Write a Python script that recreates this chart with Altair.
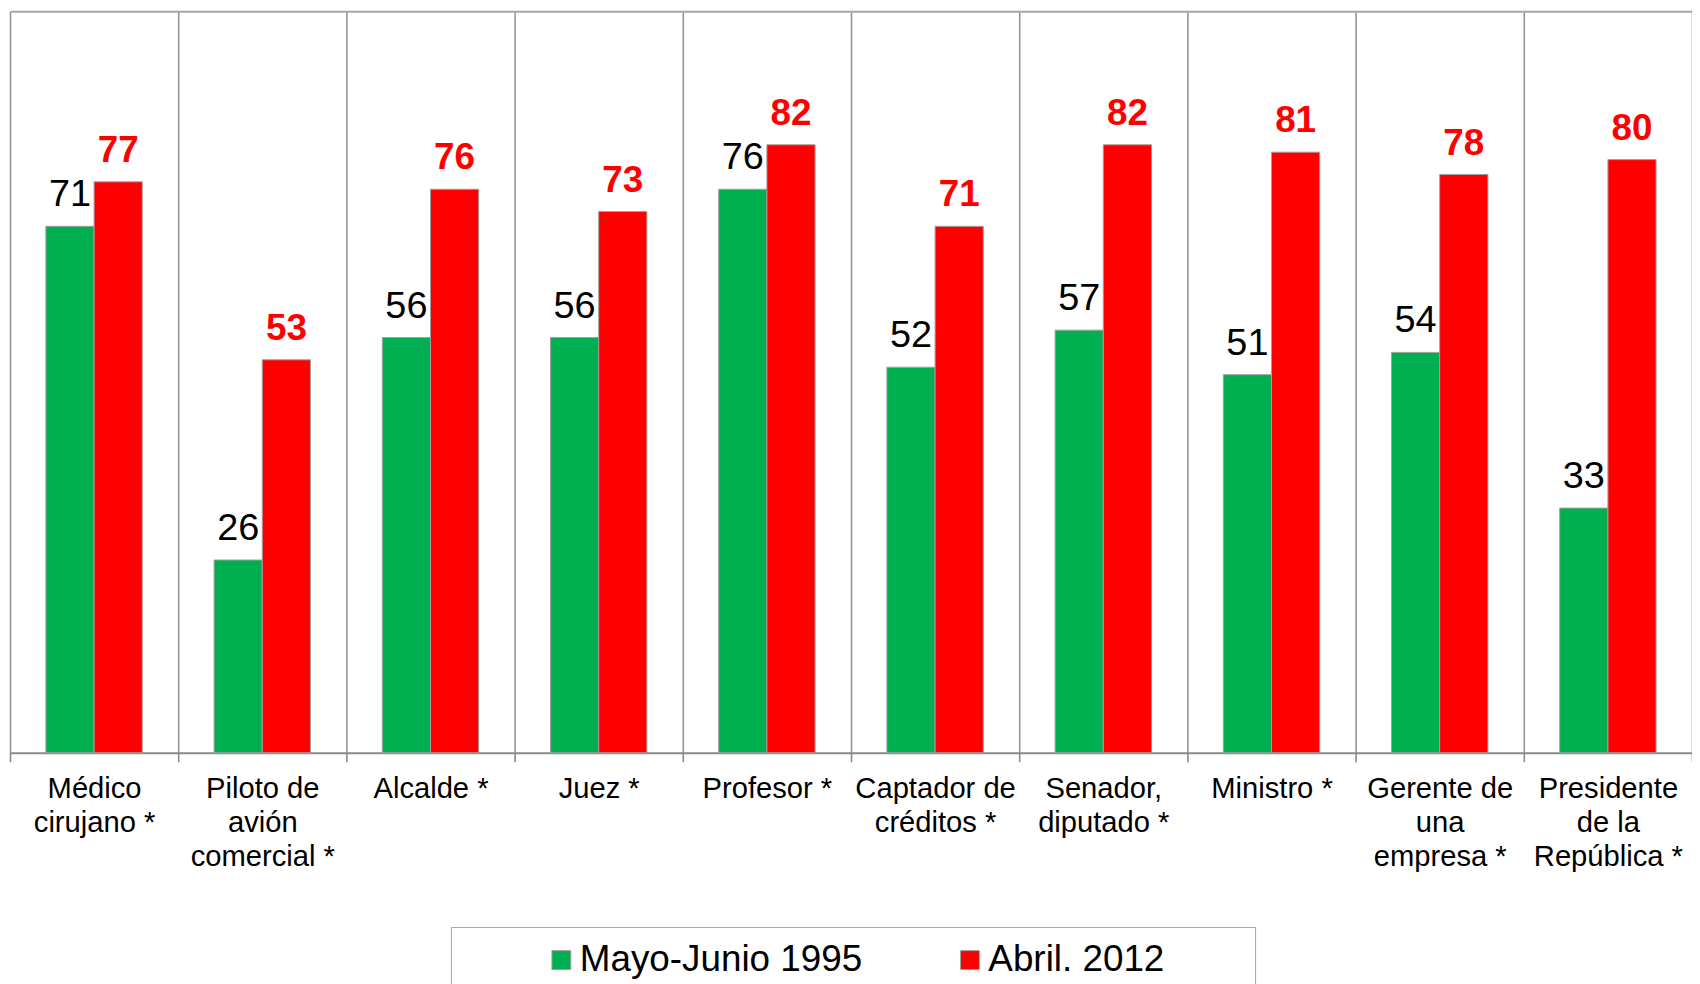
import altair as alt
import pandas as pd

categories = [
    "Médico|cirujano *",
    "Piloto de|avión|comercial *",
    "Alcalde *",
    "Juez *",
    "Profesor *",
    "Captador de|créditos *",
    "Senador,|diputado *",
    "Ministro *",
    "Gerente de|una|empresa *",
    "Presidente|de la|República *",
]
series = ["Mayo-Junio 1995", "Abril. 2012"]
values_1995 = [71, 26, 56, 56, 76, 52, 57, 51, 54, 33]
values_2012 = [77, 53, 76, 73, 82, 71, 82, 81, 78, 80]
colors = ["#00B050", "#FF0000"]

rows = []
for c, a, b in zip(categories, values_1995, values_2012):
    rows.append({"cat": c, "serie": series[0], "valor": a})
    rows.append({"cat": c, "serie": series[1], "valor": b})
df = pd.DataFrame(rows)

FONT = "Liberation Sans"

x_scale = alt.Scale(domain=categories, paddingInner=0, paddingOuter=0)
off_scale = alt.Scale(domain=series, paddingInner=0, paddingOuter=0.745)
y_scale = alt.Scale(domain=[0, 100], nice=False, zero=True)

x_enc = alt.X(
    "cat:N",
    sort=categories,
    scale=x_scale,
    axis=alt.Axis(
        title=None,
        tickBand="extent",
        grid=True,
        gridColor="#959595",
        gridWidth=1.6,
        domainColor="#8a8a8a",
        domainWidth=2,
        tickColor="#8a8a8a",
        tickWidth=1.6,
        tickSize=9,
        labelFont=FONT,
        labelFontSize=29.3,
        labelColor="black",
        labelAngle=0,
        labelBaseline="top",
        labelPadding=13,
        labelLineHeight=34,
        labelExpr="split(datum.label, '|')",
        labelLimit=400,
        labelOverlap=False,
    ),
)
xo_enc = alt.XOffset("serie:N", sort=series, scale=off_scale)
y_enc = alt.Y(
    "valor:Q",
    scale=y_scale,
    axis=alt.Axis(
        title=None,
        values=[100],
        grid=True,
        gridColor="#a6a6a6",
        gridWidth=2,
        labels=False,
        ticks=False,
        domain=False,
    ),
)

base = alt.Chart(df)

bars = base.mark_bar(stroke="#a0a0a0", strokeWidth=1).encode(
    x=x_enc,
    xOffset=xo_enc,
    y=y_enc,
    color=alt.Color(
        "serie:N",
        sort=series,
        scale=alt.Scale(domain=series, range=colors),
        legend=alt.Legend(
            title="\u00a0",
            titleOrient="right",
            titlePadding=77,
            titleFontSize=20,
            orient="none",
            legendX=443,
            legendY=920,
            direction="horizontal",
            symbolType="square",
            symbolSize=361,
            symbolStrokeColor="#a0a0a0",
            symbolStrokeWidth=1,
            symbolOffset=78,
            labelFont=FONT,
            labelFontSize=37,
            labelColor="black",
            labelOffset=0,
            labelLimit=500,
            columnPadding=11.5,
            padding=14.5,
            strokeColor="#a6a6a6",
        ),
    ),
)

lab95 = base.transform_filter(alt.datum.serie == series[0]).mark_text(
    font=FONT, fontSize=38, color="black", baseline="alphabetic", dy=-20
).encode(x=x_enc, xOffset=xo_enc, y=y_enc, text="valor:Q")

lab12 = base.transform_filter(alt.datum.serie == series[1]).mark_text(
    font=FONT, fontSize=37, fontWeight="bold", color="#FF0000", baseline="alphabetic", dy=-20
).encode(x=x_enc, xOffset=xo_enc, y=y_enc, text="valor:Q")

chart = (
    alt.layer(bars, lab95, lab12)
    .properties(
        width=1690,
        height=745,
        autosize=alt.AutoSizeParams(type="none"),
        padding={"left": 2, "top": 1, "right": 0, "bottom": 230},
    )
    .configure_view(stroke=None)
)

chart.save("out.html", embed_options={"renderer": "svg", "actions": False})
